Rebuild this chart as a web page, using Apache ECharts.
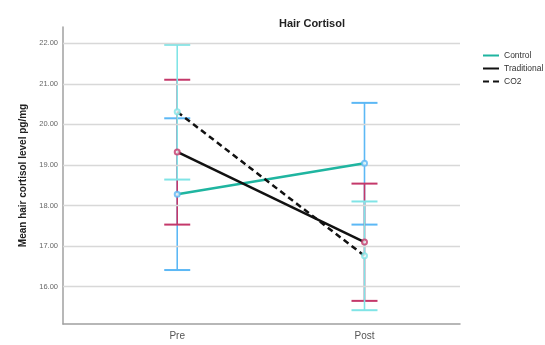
<!DOCTYPE html>
<html>
<head>
<meta charset="utf-8">
<script src="https://cdn.jsdelivr.net/npm/echarts@6/dist/echarts.min.js"></script>
<style>html,body{margin:0;padding:0;background:#fff;}#c{width:545px;height:345px;}</style>
</head>
<body>
<div id="c"></div>
<script>
const categories = ['Pre', 'Post'];
const groups = ['Control', 'Traditional', 'CO2'];
const controlMean = [18.28, 19.04];
const controlLow = [16.41, 17.53];
const controlHigh = [20.15, 20.53];
const traditionalMean = [19.32, 17.10];
const traditionalLow = [17.53, 15.65];
const traditionalHigh = [21.10, 18.54];
const co2Mean = [20.31, 16.76];
const co2Low = [18.64, 15.42];
const co2High = [21.96, 18.10];
const yTicks = [16, 17, 18, 19, 20, 21, 22];

const lineColors = ['#1fb5a0', '#111111', '#111111'];
const barColors = ['#5cb8f5', '#c4386a', '#80e4e6'];

const chart = echarts.init(document.getElementById('c'), null, {renderer: 'canvas'});

function pts(arr) { return arr.map((v, i) => [i + 1, v]); }
function errData(lo, hi) { return lo.map((v, i) => [i + 1, v, hi[i]]); }
function errRender(color) {
  return function (params, api) {
    const x = api.value(0), lo = api.value(1), hi = api.value(2);
    const a = api.coord([x, lo]), b = api.coord([x, hi]);
    const h = 13;
    const st = {stroke: color, lineWidth: 1.6};
    return {type: 'group', children: [
      {type: 'line', shape: {x1: a[0], y1: a[1], x2: b[0], y2: b[1]}, style: st},
      {type: 'line', shape: {x1: a[0] - h, y1: a[1], x2: a[0] + h, y2: a[1]}, style: {stroke: color, lineWidth: 2}},
      {type: 'line', shape: {x1: b[0] - h, y1: b[1], x2: b[0] + h, y2: b[1]}, style: {stroke: color, lineWidth: 2}}
    ]};
  };
}

const means = [controlMean, traditionalMean, co2Mean];
const lows = [controlLow, traditionalLow, co2Low];
const highs = [controlHigh, traditionalHigh, co2High];

const series = [];
series.push({
  type: 'line', data: [], silent: true, z: 1,
  markLine: {
    silent: true, symbol: ['none', 'none'], label: {show: false},
    lineStyle: {color: '#d8d8d8', type: 'solid', width: 1.3},
    animation: false,
    data: yTicks.map(v => ({yAxis: v}))
  }
});
for (let g = 0; g < 3; g++) {
  series.push({
    type: 'custom', name: groups[g] + ' CI', z: 2 + g, silent: true,
    renderItem: errRender(barColors[g]),
    data: errData(lows[g], highs[g])
  });
}
for (let g = 0; g < 3; g++) {
  series.push({
    type: 'line', name: groups[g], z: 6, symbol: 'none', showSymbol: false,
    lineStyle: {color: lineColors[g], width: 2.5, type: g === 2 ? [6, 4] : 'solid'},
    itemStyle: {color: lineColors[g]},
    data: pts(means[g])
  });
}
for (let g = 0; g < 3; g++) {
  series.push({
    type: 'scatter', name: groups[g] + ' mean', z: 7, symbol: 'emptyCircle', symbolSize: 5,
    itemStyle: {color: barColors[g], borderColor: barColors[g], borderWidth: 1},
    data: pts(means[g])
  });
}

chart.setOption({
  animation: false,
  title: {
    text: 'Hair Cortisol', left: 307, top: 13, textAlign: 'center',
    textStyle: {fontFamily: 'Liberation Sans', fontSize: 11, fontWeight: 'bold', color: '#222'}
  },
  legend: {
    data: groups, orient: 'vertical', left: 482, top: 51, padding: 0,
    itemWidth: 16, itemHeight: 8, itemGap: 4, itemTextGap: 3,
    itemStyle: {opacity: 0},
    textStyle: {fontFamily: 'Liberation Sans', fontSize: 8.5, color: '#333'}
  },
  grid: {left: 63, right: 85, top: 27, bottom: 21},
  xAxis: {
    type: 'value', min: 0.39, max: 2.51,
    axisLine: {show: true, lineStyle: {color: '#a0a0a0', width: 1.5}},
    axisTick: {show: false},
    splitLine: {show: false},
    axisLabel: {
      customValues: [1, 2], margin: 7,
      formatter: v => categories[Math.round(v) - 1],
      fontFamily: 'Liberation Sans', fontSize: 10, color: '#555'
    }
  },
  yAxis: {
    type: 'value', min: 15.08, max: 22.4,
    name: 'Mean hair cortisol level pg/mg', nameLocation: 'middle', nameGap: 35,
    nameTextStyle: {fontFamily: 'Liberation Sans', fontSize: 10, fontWeight: 'bold', color: '#222'},
    axisLine: {show: true, lineStyle: {color: '#a0a0a0', width: 1.5}},
    axisTick: {show: false},
    splitLine: {show: false},
    axisLabel: {
      customValues: yTicks, margin: 5,
      formatter: v => v.toFixed(2),
      fontFamily: 'Liberation Sans', fontSize: 7.5, color: '#666'
    }
  },
  series: series
});
</script>
</body>
</html>
